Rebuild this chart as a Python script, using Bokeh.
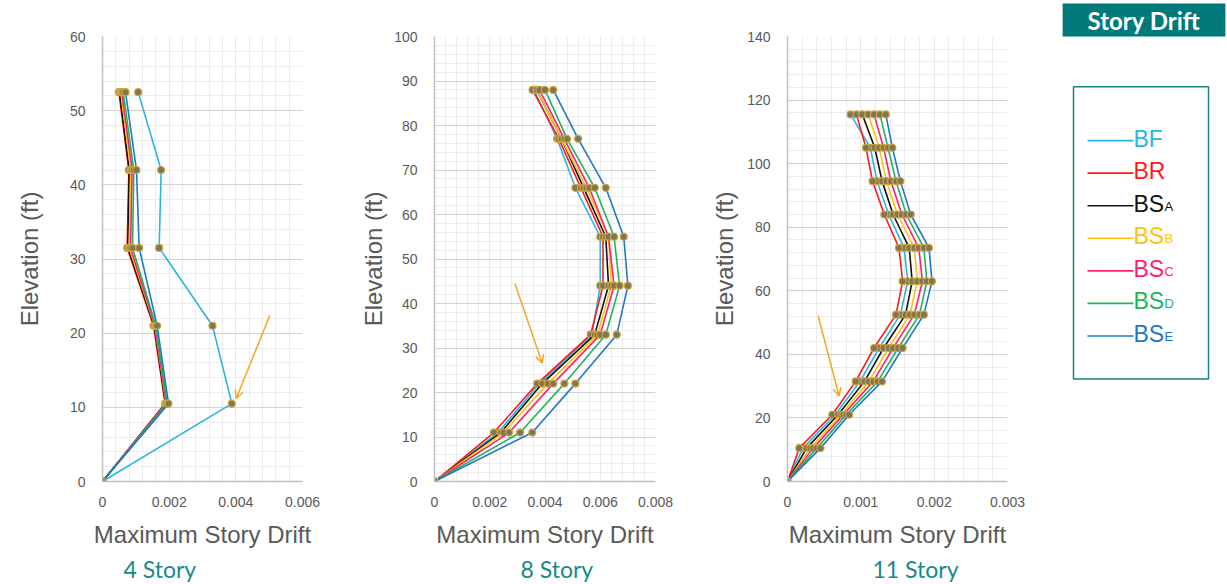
from bokeh.plotting import figure
from bokeh.layouts import row
from bokeh.models import Range1d, FixedTicker, CustomJSTickFormatter, Title, Arrow, OpenHead
from bokeh.embed import file_html
from bokeh.resources import INLINE
from bokeh.core.properties import value

# ---------------- data ----------------
series = ["BF", "BR", "BS_A", "BS_B", "BS_C", "BS_D", "BS_E"]
legend_main = ["BF", "BR", "BS", "BS", "BS", "BS", "BS"]
legend_sub = ["", "", "A", "B", "C", "D", "E"]
series_colors = ["#29b5ea", "#ff1a1a", "#111111", "#ffc20e", "#ff1f6e", "#1fb45a", "#1f77c8"]

# 4 Story
elev_4 = [0, 10.5, 21, 31.5, 42, 52.5]
bf_4 = [0, 0.00388, 0.00330, 0.00170, 0.00176, 0.00107]
br_4 = [0, 0.00188, 0.00153, 0.00074, 0.00079, 0.00049]
bsa_4 = [0, 0.00189, 0.00155, 0.00076, 0.00080, 0.00051]
bsb_4 = [0, 0.00191, 0.00157, 0.00080, 0.00085, 0.00055]
bsc_4 = [0, 0.00192, 0.00158, 0.00084, 0.00089, 0.00058]
bsd_4 = [0, 0.00194, 0.00160, 0.00090, 0.00094, 0.00062]
bse_4 = [0, 0.00198, 0.00164, 0.00110, 0.00102, 0.00069]

# 8 Story
elev_8 = [0, 11, 22, 33, 44, 55, 66, 77, 88]
bf_8 = [0, 0.00230, 0.00380, 0.00570, 0.00600, 0.00600, 0.00510, 0.00444, 0.00360]
br_8 = [0, 0.00215, 0.00372, 0.00565, 0.00610, 0.00610, 0.00530, 0.00450, 0.00355]
bsa_8 = [0, 0.00240, 0.00390, 0.00580, 0.00630, 0.00620, 0.00540, 0.00460, 0.00370]
bsb_8 = [0, 0.00250, 0.00410, 0.00590, 0.00640, 0.00630, 0.00550, 0.00460, 0.00370]
bsc_8 = [0, 0.00270, 0.00430, 0.00600, 0.00650, 0.00630, 0.00560, 0.00470, 0.00380]
bsd_8 = [0, 0.00310, 0.00470, 0.00620, 0.00670, 0.00650, 0.00580, 0.00480, 0.00400]
bse_8 = [0, 0.00354, 0.00510, 0.00660, 0.00700, 0.00685, 0.00620, 0.00520, 0.00430]

# 11 Story
elev_11 = [0, 10.5, 21, 31.5, 42, 52.5, 63, 73.5, 84, 94.5, 105, 115.5]
bf_11 = [0, 0.00021, 0.00065, 0.00099, 0.00125, 0.00154, 0.00164, 0.00159, 0.00138, 0.00122, 0.00113, 0.00086]
br_11 = [0, 0.00016, 0.00061, 0.00093, 0.00118, 0.00148, 0.00157, 0.00152, 0.00132, 0.00116, 0.00107, 0.00094]
bsa_11 = [0, 0.00026, 0.00069, 0.00105, 0.00131, 0.00161, 0.00170, 0.00166, 0.00144, 0.00129, 0.00119, 0.00102]
bsb_11 = [0, 0.00031, 0.00073, 0.00111, 0.00138, 0.00167, 0.00177, 0.00173, 0.00150, 0.00135, 0.00125, 0.00110]
bsc_11 = [0, 0.00035, 0.00076, 0.00117, 0.00144, 0.00173, 0.00184, 0.00179, 0.00156, 0.00141, 0.00131, 0.00118]
bsd_11 = [0, 0.00040, 0.00080, 0.00123, 0.00151, 0.00180, 0.00190, 0.00186, 0.00162, 0.00148, 0.00137, 0.00126]
bse_11 = [0, 0.00045, 0.00084, 0.00129, 0.00157, 0.00186, 0.00197, 0.00193, 0.00168, 0.00154, 0.00143, 0.00134]

# axis ticks
x_ticks_4 = [0, 0.002, 0.004, 0.006]
y_ticks_4 = [0, 10, 20, 30, 40, 50, 60]
x_ticks_8 = [0, 0.002, 0.004, 0.006, 0.008]
y_ticks_8 = [0, 10, 20, 30, 40, 50, 60, 70, 80, 90, 100]
x_ticks_11 = [0, 0.001, 0.002, 0.003]
y_ticks_11 = [0, 20, 40, 60, 80, 100, 120, 140]

subtitles = ["4 Story", "8 Story", "11 Story"]
x_title = "Maximum Story Drift"
y_title = "Elevation (ft)"
box_title = "Story Drift"

# annotation arrows (data coordinates): x_start, y_start, x_end, y_end
arrow_4 = [0.00502, 22.4, 0.00401, 11.2]
arrow_8 = [0.00291, 44.5, 0.00390, 26.6]
arrow_11 = [0.000417, 52.2, 0.000703, 26.9]

# ---------------- styling ----------------
GREY = "#595959"
TEAL = "#17898a"
ORANGE = "#f5a623"
TICK_FONT = "Liberation Sans Narrow, Arial Narrow, Liberation Sans, sans-serif"
LABEL_FONT = "Liberation Sans Narrow, Arial Narrow, Liberation Sans, sans-serif"
H = 584
TOP = 36
BOTTOM = 97


def minor_list(ticks, n):
    out = []
    for a, b in zip(ticks[:-1], ticks[1:]):
        step = (b - a) / n
        for k in range(1, n):
            out.append(a + k * step)
    return out


def make_panel(width, left, frame_w, elev, xs_list, x_ticks, y_ticks, n_minor_y,
               ylab_standoff, subtitle, sub_offset, arrow):
    p = figure(width=width, height=H,
               x_range=Range1d(x_ticks[0], x_ticks[-1]),
               y_range=Range1d(y_ticks[0], y_ticks[-1]),
               output_backend="svg", toolbar_location=None,
               min_border_left=left, min_border_right=width - left - frame_w,
               min_border_top=TOP, min_border_bottom=BOTTOM)
    p.outline_line_color = None
    p.background_fill_color = "white"
    p.border_fill_color = "white"

    p.xaxis.ticker = FixedTicker(ticks=x_ticks, minor_ticks=minor_list(x_ticks, 5))
    p.yaxis.ticker = FixedTicker(ticks=y_ticks, minor_ticks=minor_list(y_ticks, n_minor_y))
    p.xaxis.formatter = CustomJSTickFormatter(code="return tick == 0 ? '0' : tick.toFixed(3);")

    for ax in (p.xaxis[0], p.yaxis[0]):
        ax.axis_line_color = "#bfbfbf"
        ax.axis_line_width = 1.5
        ax.major_tick_line_color = None
        ax.minor_tick_line_color = None
        ax.major_tick_out = 0
        ax.major_tick_in = 0
        ax.major_label_text_font = TICK_FONT
        ax.major_label_text_font_size = "14px"
        ax.major_label_text_color = GREY
        ax.axis_label_text_font = LABEL_FONT
        ax.axis_label_text_font_size = "24px"
        ax.axis_label_text_font_style = "normal"
        ax.axis_label_text_color = GREY
    p.xaxis.axis_label = x_title
    p.yaxis.axis_label = y_title
    p.xaxis.major_label_standoff = 11
    p.xaxis.axis_label_standoff = 11
    p.yaxis.major_label_standoff = 13
    p.yaxis.axis_label_standoff = ylab_standoff

    p.xgrid.grid_line_color = "#e8e8e8"
    p.xgrid.minor_grid_line_color = "#ececec"
    p.ygrid.grid_line_color = "#d2d2d2"
    p.ygrid.minor_grid_line_color = "#ececec"

    for xs, col in zip(xs_list, series_colors):
        p.line(xs, elev, line_color=col, line_width=1.6)
        p.scatter(xs, elev, size=7, marker="circle", fill_color="#7d7754",
                  line_color="#d0a441", line_width=1.2)

    p.add_layout(Arrow(end=OpenHead(size=8, line_color=ORANGE, line_width=1.5),
                       x_start=arrow[0], y_start=arrow[1], x_end=arrow[2], y_end=arrow[3],
                       line_color=ORANGE, line_width=1.5))

    t = Title(text=subtitle, align="left", offset=sub_offset, text_font="Lato",
              text_font_size="23px", text_font_style="normal", text_color=TEAL, standoff=4)
    p.add_layout(t, "below")
    return p


p1 = make_panel(348, 102, 200, elev_4, [bf_4, br_4, bsa_4, bsb_4, bsc_4, bsd_4, bse_4],
                x_ticks_4, y_ticks_4, 5, 24, subtitles[0], 21, arrow_4)
p2 = make_panel(352, 86, 221, elev_8, [bf_8, br_8, bsa_8, bsb_8, bsc_8, bsd_8, bse_8],
                x_ticks_8, y_ticks_8, 5, 4, subtitles[1], 86, arrow_8)
p3 = make_panel(360, 87, 220, elev_11, [bf_11, br_11, bsa_11, bsb_11, bsc_11, bsd_11, bse_11],
                x_ticks_11, y_ticks_11, 5, 6, subtitles[2], 85, arrow_11)

# ---------------- legend panel (page pixel coordinates inside its frame) ----------------
L0 = 1060
LW = 167
pl = figure(width=LW, height=H, x_range=Range1d(L0, L0 + LW), y_range=Range1d(H - BOTTOM, TOP),
            output_backend="svg", toolbar_location=None, x_axis_type=None, y_axis_type=None,
            min_border_left=0, min_border_right=0, min_border_top=TOP, min_border_bottom=BOTTOM)
pl.grid.visible = False
pl.outline_line_color = None

head = Title(text=box_title, align="center", offset=0, standoff=0, text_color="white",
             text_font="Lato", text_font_style="bold", text_font_size="24px",
             background_fill_color="#00797a", padding=(25, 2))
pl.add_layout(head, "above")

pl.quad(left=[1073], right=[1208], top=[87], bottom=[383], fill_color=None,
        line_color="#1a8080", line_width=1.5)

ly = [141.5 + 33.0 * i for i in range(len(series))]
pl.segment(x0=[1087] * len(series), y0=ly, x1=[1133] * len(series), y1=ly,
           line_color=series_colors, line_width=1.6)
pl.text(x=[1133] * len(series), y=[v - 2 for v in ly], text=legend_main, text_color=series_colors,
        text_font=value("Liberation Sans"), text_font_size="23px", text_baseline="alphabetic")
pl.text(x=[1164] * len(series), y=[v + 0.5 for v in ly], text=legend_sub, text_color=series_colors,
        text_font=value("Liberation Sans"), text_font_size="13px", text_baseline="alphabetic")

layout = row(p1, p2, p3, pl, spacing=0)
open("out.html", "w").write(file_html(layout, INLINE))
